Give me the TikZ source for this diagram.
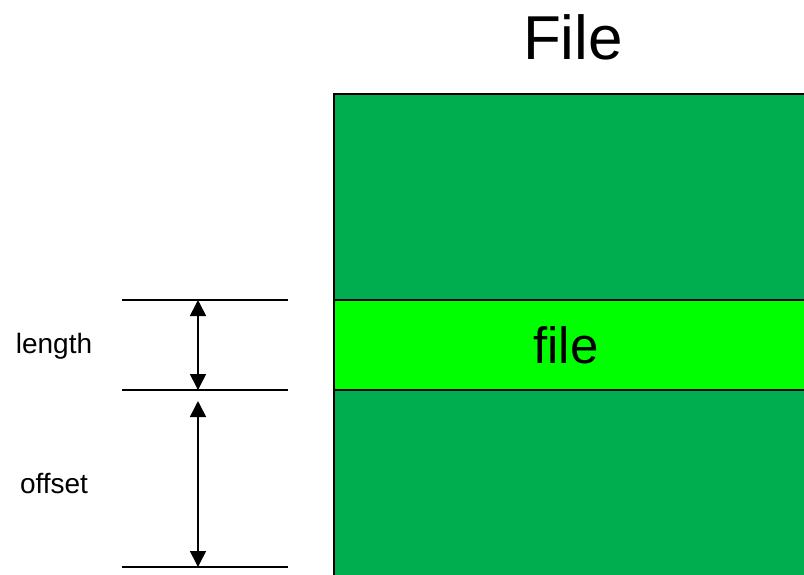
\documentclass[tikz,border=0pt]{standalone}
\usepackage{fontspec}
\setmainfont{Liberation Sans}
\usetikzlibrary{arrows.meta}
\definecolor{blockgreen}{RGB}{0,173,79}
\definecolor{slicegreen}{RGB}{0,255,0}
\tikzset{
  edge/.style={line width=2pt, black},
  guide/.style={line width=1.6pt, black},
  dim/.style={line width=1.6pt, black, {Triangle[width=16pt,length=16pt]}-{Triangle[width=16pt,length=16pt]}},
  lbl/.style={inner sep=0pt, anchor=base, text=black}
}
\begin{document}
\begin{tikzpicture}[x=1pt,y=-1pt]
\useasboundingbox (0,0) rectangle (804,574);

% the file as a tall block, running past the right and bottom edges
\begin{scope}
  \clip (0,0) rectangle (804,574);
  \fill[blockgreen] (334,94) rectangle (830,300);
  \fill[slicegreen] (334,300) rectangle (830,390);
  \fill[blockgreen] (334,390) rectangle (830,600);
  \draw[edge] (830,94) -- (334,94) -- (334,600);
  \draw[edge] (334,300) -- (830,300);
  \draw[edge] (334,390) -- (830,390);
\end{scope}

\node[lbl, font=\fontsize{62}{62}\selectfont] (title) at (573,59) {File};
\node[lbl, font=\fontsize{51}{51}\selectfont] (slice) at (566,363) {file};

% dimension guides
\coordinate (topL) at (122,300);  \coordinate (topR) at (288,300);
\coordinate (midL) at (122,390);  \coordinate (midR) at (288,390);
\coordinate (botL) at (122,567);  \coordinate (botR) at (288,567);
\draw[guide] (topL) -- (topR);
\draw[guide] (midL) -- (midR);
\draw[guide] (botL) -- (botR);

\coordinate (lenA) at (198,300);
\coordinate (lenB) at (198,390);
\coordinate (offA) at (198,401);
\coordinate (offB) at (198,567);
\draw[dim] (lenA) -- (lenB);
\draw[dim] (offA) -- (offB);

\node[lbl, font=\fontsize{28}{28}\selectfont] (lenlbl) at (54,353) {length};
\node[lbl, font=\fontsize{28}{28}\selectfont] (offlbl) at (54,493) {offset};
\end{tikzpicture}
\end{document}
